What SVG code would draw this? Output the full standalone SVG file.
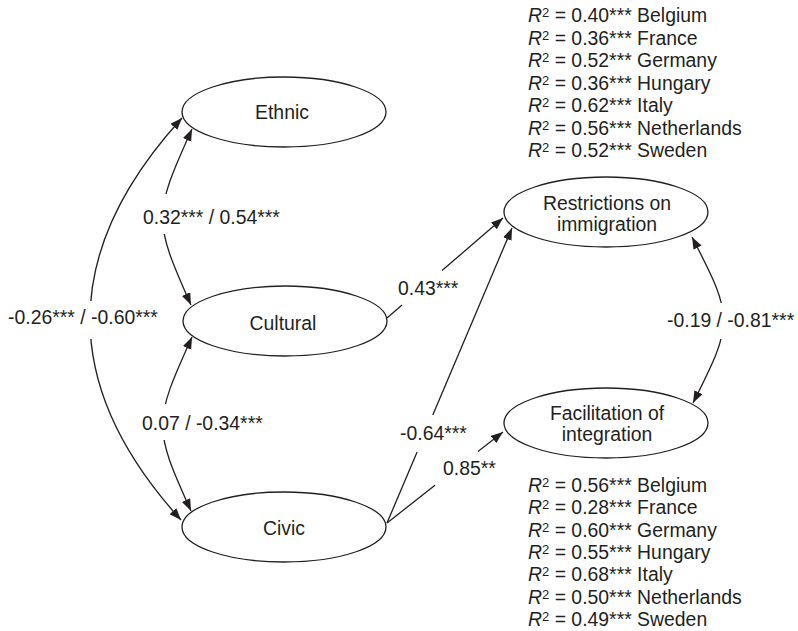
<svg xmlns="http://www.w3.org/2000/svg" width="798" height="631" viewBox="0 0 798 631">
<style>
text{font-family:"Liberation Sans",Arial,sans-serif;font-size:19.4px;fill:#231f20}
.node ellipse{fill:#fff;stroke:#231f20;stroke-width:1.3}
.c{fill:none;stroke:#231f20;stroke-width:1.3}
.mid{text-anchor:middle}
.bg{fill:#fff}
.sup{font-size:13px}
.r{font-style:italic}
</style>
<defs>
<marker id="ah" markerUnits="userSpaceOnUse" markerWidth="13" markerHeight="10" refX="12" refY="4.5" orient="auto-start-reverse">
<path d="M0,0 L12,4.5 L0,9 Z" fill="#231f20"/>
</marker>
</defs>
<rect width="798" height="631" fill="#fff"/>
<g id="connectors">
<path class="c" d="M182,118 Q-1.5,319 181,520" marker-start="url(#ah)" marker-end="url(#ah)"/>
<path class="c" d="M192,129 C153,215 153,220 191,305" marker-start="url(#ah)" marker-end="url(#ah)"/>
<path class="c" d="M192,337 C153,423 153,427 191,511" marker-start="url(#ah)" marker-end="url(#ah)"/>
<path class="c" d="M692,237 C734,318 734,322 693,403" marker-start="url(#ah)" marker-end="url(#ah)"/>
<line class="c" x1="387" y1="318" x2="402" y2="305"/>
<line class="c" x1="442" y1="270.6" x2="503" y2="218" marker-end="url(#ah)"/>
<line class="c" x1="387" y1="523" x2="417.1" y2="452"/>
<line class="c" x1="432.8" y1="415" x2="512" y2="228" marker-end="url(#ah)"/>
<line class="c" x1="387" y1="523" x2="435" y2="485.3"/>
<line class="c" x1="478" y1="451.6" x2="503" y2="432" marker-end="url(#ah)"/>
</g>
<g id="labels">
<rect class="bg" x="140" y="194" width="142" height="40"/>
<text x="143" y="224">0.32*** / 0.54***</text>
<rect class="bg" x="4" y="301" width="158" height="38"/>
<text x="8" y="324">-0.26*** / -0.60***</text>
<rect class="bg" x="139" y="404" width="124" height="36"/>
<text x="142" y="430">0.07 / -0.34***</text>
<rect class="bg" x="664" y="303" width="134" height="36"/>
<text x="667" y="327">-0.19 / -0.81***</text>
<text x="398" y="295">0.43***</text>
<text x="400" y="440">-0.64***</text>
<text x="443" y="475">0.85**</text>
</g>
<g id="ethnic" class="node">
<ellipse cx="284" cy="112" rx="102" ry="35"/>
<text class="mid" x="282" y="119">Ethnic</text>
</g>
<g id="cultural" class="node">
<ellipse cx="285" cy="321" rx="102" ry="35"/>
<text class="mid" x="283" y="330">Cultural</text>
</g>
<g id="civic" class="node">
<ellipse cx="284" cy="527" rx="102" ry="35"/>
<text class="mid" x="284" y="535">Civic</text>
</g>
<g id="restrictions" class="node">
<ellipse cx="606" cy="212" rx="102" ry="35"/>
<text class="mid" x="607" y="210">Restrictions on</text>
<text class="mid" x="607" y="231">immigration</text>
</g>
<g id="facilitation" class="node">
<ellipse cx="606" cy="423" rx="102" ry="35"/>
<text class="mid" x="607" y="420">Facilitation of</text>
<text class="mid" x="607" y="441">integration</text>
</g>
<g id="r2-restrictions">
<text x="528" y="22"><tspan class="r">R</tspan><tspan class="sup" dy="-5">2</tspan><tspan dy="5"> = 0.40*** Belgium</tspan></text>
<text x="528" y="44.5"><tspan class="r">R</tspan><tspan class="sup" dy="-5">2</tspan><tspan dy="5"> = 0.36*** France</tspan></text>
<text x="528" y="67"><tspan class="r">R</tspan><tspan class="sup" dy="-5">2</tspan><tspan dy="5"> = 0.52*** Germany</tspan></text>
<text x="528" y="89.5"><tspan class="r">R</tspan><tspan class="sup" dy="-5">2</tspan><tspan dy="5"> = 0.36*** Hungary</tspan></text>
<text x="528" y="112"><tspan class="r">R</tspan><tspan class="sup" dy="-5">2</tspan><tspan dy="5"> = 0.62*** Italy</tspan></text>
<text x="528" y="134.5"><tspan class="r">R</tspan><tspan class="sup" dy="-5">2</tspan><tspan dy="5"> = 0.56*** Netherlands</tspan></text>
<text x="528" y="157"><tspan class="r">R</tspan><tspan class="sup" dy="-5">2</tspan><tspan dy="5"> = 0.52*** Sweden</tspan></text>
</g>
<g id="r2-facilitation">
<text x="528" y="492"><tspan class="r">R</tspan><tspan class="sup" dy="-5">2</tspan><tspan dy="5"> = 0.56*** Belgium</tspan></text>
<text x="528" y="514.3"><tspan class="r">R</tspan><tspan class="sup" dy="-5">2</tspan><tspan dy="5"> = 0.28*** France</tspan></text>
<text x="528" y="536.6"><tspan class="r">R</tspan><tspan class="sup" dy="-5">2</tspan><tspan dy="5"> = 0.60*** Germany</tspan></text>
<text x="528" y="558.9"><tspan class="r">R</tspan><tspan class="sup" dy="-5">2</tspan><tspan dy="5"> = 0.55*** Hungary</tspan></text>
<text x="528" y="581.2"><tspan class="r">R</tspan><tspan class="sup" dy="-5">2</tspan><tspan dy="5"> = 0.68*** Italy</tspan></text>
<text x="528" y="603.5"><tspan class="r">R</tspan><tspan class="sup" dy="-5">2</tspan><tspan dy="5"> = 0.50*** Netherlands</tspan></text>
<text x="528" y="625.8"><tspan class="r">R</tspan><tspan class="sup" dy="-5">2</tspan><tspan dy="5"> = 0.49*** Sweden</tspan></text>
</g>
</svg>
